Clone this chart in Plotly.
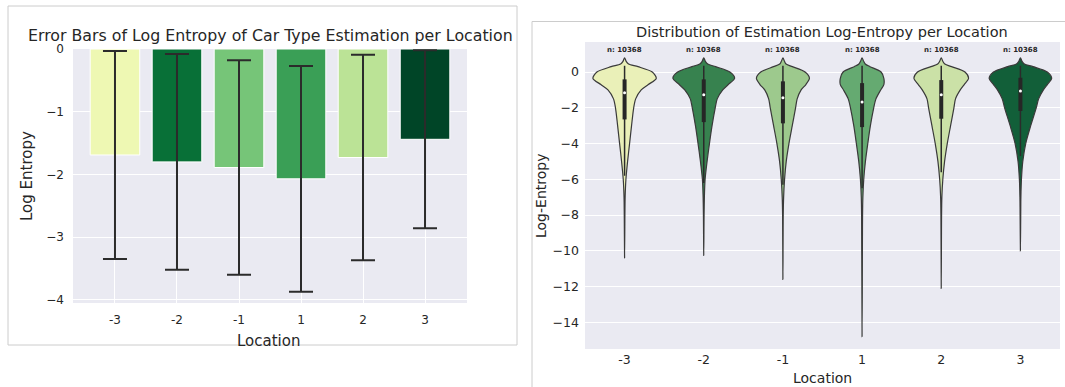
import plotly.graph_objects as go

W, H = 1065, 387

# ---------------- data ----------------
locations = ["-3", "-2", "-1", "1", "2", "3"]

# left panel: mean and std of log entropy
mean_log_entropy = [-1.69, -1.80, -1.89, -2.07, -1.73, -1.44]
std_log_entropy = [1.66, 1.72, 1.71, 1.80, 1.64, 1.42]
bar_colors = ["#eef8b3", "#087037", "#76c578", "#3a9f56", "#bbe396", "#004527"]

# right panel: violin outlines (half width in category units at each level)
violin_levels = [0.8, 0.6, 0.45, 0.3, 0.0, -0.35, -0.7, -1.0, -1.5, -2.0,
                 -3.0, -4.0, -5.0, -6.0, -7.0, -8.0]
violin_half_width = {
    "-3": [0, 0.02, 0.05, 0.17, 0.35, 0.40, 0.30, 0.21, 0.14, 0.115, 0.088, 0.063, 0.038, 0.017, 0.007, 0.004],
    "-2": [0, 0.02, 0.05, 0.15, 0.33, 0.39, 0.31, 0.24, 0.17, 0.145, 0.105, 0.072, 0.042, 0.017, 0.008, 0.004],
    "-1": [0, 0.02, 0.04, 0.12, 0.28, 0.335, 0.29, 0.23, 0.18, 0.16, 0.118, 0.076, 0.042, 0.021, 0.009, 0.004],
    "1":  [0, 0.02, 0.04, 0.10, 0.24, 0.275, 0.275, 0.235, 0.175, 0.147, 0.105, 0.072, 0.042, 0.021, 0.010, 0.006],
    "2":  [0, 0.02, 0.045, 0.13, 0.30, 0.345, 0.29, 0.24, 0.18, 0.16, 0.118, 0.076, 0.042, 0.020, 0.008, 0.004],
    "3":  [0, 0.02, 0.05, 0.16, 0.34, 0.395, 0.34, 0.29, 0.23, 0.20, 0.13, 0.067, 0.030, 0.013, 0.006, 0.004],
}
violin_min = [-10.4, -10.26, -11.6, -14.8, -12.1, -10.0]
violin_colors = ["#eaf0b8", "#37824f", "#9dc98d", "#65aa71", "#cbe1a7", "#125f39"]

box_q1 = [-0.41, -0.41, -0.52, -0.62, -0.45, -0.32]
box_q3 = [-2.65, -2.80, -2.87, -3.08, -2.61, -2.18]
box_median = [-1.16, -1.27, -1.44, -1.68, -1.27, -1.06]
whisker_high = [0.35, 0.35, 0.35, 0.35, 0.35, 0.35]
whisker_low = [-5.8, -6.2, -6.3, -6.5, -5.6, -4.7]
counts = [10368, 10368, 10368, 10368, 10368, 10368]

left_yticks = [0, -1, -2, -3, -4]
right_yticks = [0, -2, -4, -6, -8, -10, -12, -14]

TXT = "#262626"
FONT = "DejaVu Sans"
BG = "#eaeaf2"


def px_x(p):
    return p / W


def px_y(p):
    return 1 - p / H


def minus(v):
    return ("\u2212" + str(abs(v))) if v < 0 else str(v)


fig = go.Figure()

# ---------------- left: bars with error bars ----------------
pos = list(range(len(locations)))
fig.add_trace(go.Bar(
    x=pos, y=mean_log_entropy, width=0.8,
    marker=dict(color=bar_colors, line=dict(color="white", width=1)),
    error_y=dict(type="data", array=std_log_entropy, visible=True,
                 color="#2b2b2b", thickness=2, width=12),
    xaxis="x", yaxis="y", showlegend=False, hoverinfo="skip",
))

# ---------------- right: violins ----------------
for i, loc in enumerate(locations):
    hw = violin_half_width[loc]
    xs = [i + w for w in hw] + [i] + [i - w for w in hw[::-1]]
    ys = list(violin_levels) + [violin_min[i]] + list(violin_levels[::-1])
    fig.add_trace(go.Scatter(
        x=xs, y=ys, mode="lines", fill="toself", fillcolor=violin_colors[i],
        line=dict(color="#3a3a3a", width=1.2, shape="spline", smoothing=0.8),
        xaxis="x2", yaxis="y2", showlegend=False, hoverinfo="skip",
    ))
    fig.add_trace(go.Scatter(
        x=[i, i], y=[whisker_high[i], whisker_low[i]], mode="lines",
        line=dict(color="#2b2b2b", width=1.5),
        xaxis="x2", yaxis="y2", showlegend=False, hoverinfo="skip",
    ))
    fig.add_trace(go.Scatter(
        x=[i, i], y=[box_q1[i], box_q3[i]], mode="lines",
        line=dict(color="#262626", width=4),
        xaxis="x2", yaxis="y2", showlegend=False, hoverinfo="skip",
    ))
    fig.add_trace(go.Scatter(
        x=[i], y=[box_median[i]], mode="markers",
        marker=dict(color="white", size=3),
        xaxis="x2", yaxis="y2", showlegend=False, hoverinfo="skip",
    ))

annotations = []
for i, n in enumerate(counts):
    annotations.append(dict(
        x=i, y=1.22, xref="x2", yref="y2", text="<b>n: %d</b>" % n,
        xanchor="center", yanchor="middle",
        showarrow=False, font=dict(family=FONT, size=7, color=TXT),
    ))


def label(xp, yp, text, size, angle=0):
    return dict(x=px_x(xp), y=px_y(yp), xref="paper", yref="paper", text=text,
                xanchor="center", yanchor="middle", textangle=angle,
                showarrow=False, font=dict(family=FONT, size=size, color=TXT))


# titles and axis labels
annotations += [
    label(270, 36, "Error Bars of Log Entropy of Car Type Estimation per Location", 15.8),
    label(27, 176, "Log Entropy", 15, -90),
    label(268, 341, "Location", 15),
    label(822, 32, "Distribution of Estimation Log-Entropy per Location", 14.5),
    label(541, 196, "Log-Entropy", 14, -90),
    label(822, 378, "Location", 14),
]

border = "#cccccc"
shapes = [
    dict(type="rect", xref="paper", yref="paper", x0=px_x(8), x1=px_x(517),
         y0=px_y(345), y1=px_y(6), line=dict(color=border, width=1)),
    dict(type="line", xref="paper", yref="paper", x0=px_x(532), x1=1,
         y0=px_y(21.5), y1=px_y(21.5), line=dict(color=border, width=1)),
    dict(type="line", xref="paper", yref="paper", x0=px_x(532), x1=px_x(532),
         y0=0, y1=px_y(21.5), line=dict(color=border, width=1)),
]

fig.update_layout(
    width=W, height=H, margin=dict(l=0, r=0, t=0, b=0, pad=0, autoexpand=False),
    paper_bgcolor="white", plot_bgcolor=BG,
    font=dict(family=FONT, color=TXT),
    annotations=annotations, shapes=shapes,
    xaxis=dict(domain=[px_x(73), px_x(467)], range=[-0.677, 5.677],
               tickvals=pos, ticktext=locations, showgrid=True, gridcolor="white",
               gridwidth=1, zeroline=False, showline=False, ticks="",
               tickfont=dict(size=12, color=TXT), ticklabelstandoff=8,
               anchor="y", automargin=False),
    yaxis=dict(domain=[px_y(303), px_y(49)], range=[-4.05, 0],
               tickvals=left_yticks, ticktext=[minus(v) for v in left_yticks],
               showgrid=True, gridcolor="white", gridwidth=1, zeroline=False,
               ticks="", tickfont=dict(size=12, color=TXT), ticklabelstandoff=8,
               anchor="x", automargin=False),
    xaxis2=dict(domain=[px_x(585), px_x(1060)], range=[-0.5, 5.5],
                tickvals=pos, ticktext=locations, showgrid=False, zeroline=False,
                ticks="", tickfont=dict(size=12.5, color=TXT), ticklabelstandoff=1,
                anchor="y2", automargin=False),
    yaxis2=dict(domain=[px_y(349), px_y(42)], range=[-15.49, 1.68],
                tickvals=right_yticks, ticktext=[minus(v) for v in right_yticks],
                showgrid=True, gridcolor="white", gridwidth=1, zeroline=False,
                ticks="", tickfont=dict(size=12.5, color=TXT), ticklabelstandoff=5,
                anchor="x2", automargin=False),
)

fig.write_html(
    "out.html",
    config={"displayModeBar": False},
    post_script=(
        "document.body.style.margin='0px';"
        "document.documentElement.style.overflow='hidden';"
        "var d=document.getElementById('{plot_id}');"
        "d.style.position='fixed';d.style.top='0px';d.style.left='0px';"
    ),
)
